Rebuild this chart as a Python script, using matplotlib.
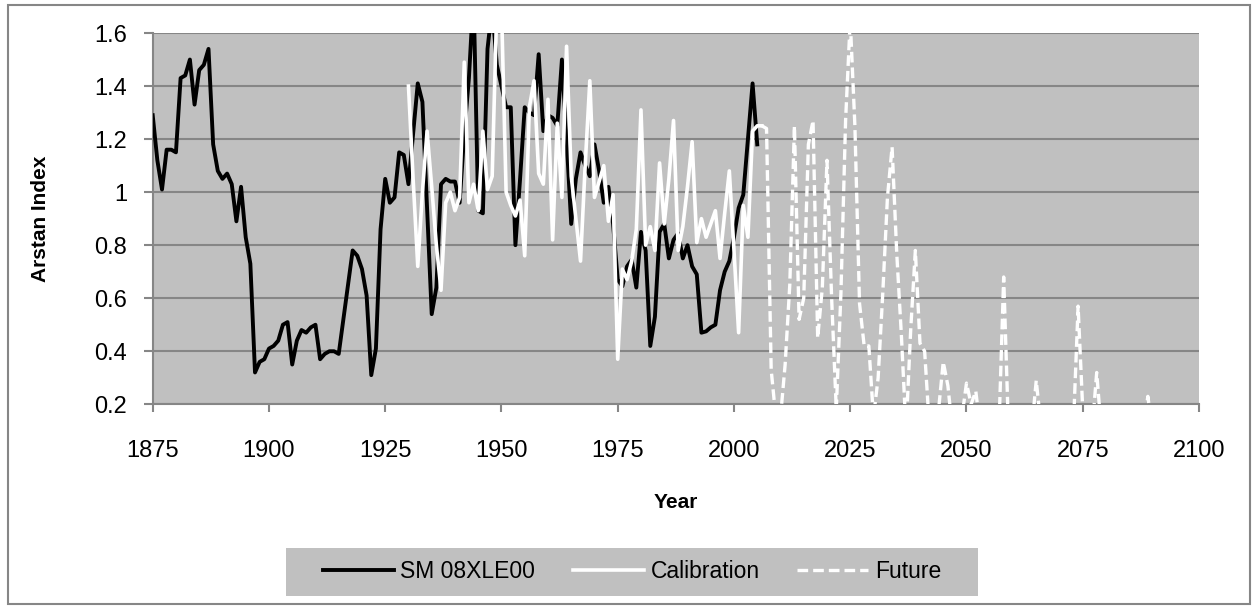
import matplotlib
matplotlib.use('Agg')
import matplotlib.pyplot as plt
from matplotlib.patches import Rectangle
import numpy as np

plt.rcParams['font.family'] = ['Liberation Sans', 'DejaVu Sans']

# SM 08XLE00 chronology, 1875-2005
sm_years = list(range(1875, 2006))
sm_values = [
    1.29, 1.12, 1.01, 1.16, 1.16, 1.15, 1.43, 1.44, 1.50, 1.33,   # 1875-1884
    1.46, 1.48, 1.54, 1.18, 1.08, 1.05, 1.07, 1.03, 0.89, 1.02,   # 1885-1894
    0.83, 0.73, 0.32, 0.36, 0.37, 0.41, 0.42, 0.44, 0.50, 0.51,   # 1895-1904
    0.35, 0.44, 0.48, 0.47, 0.49, 0.50, 0.37, 0.39, 0.40, 0.40,   # 1905-1914
    0.39, 0.52, 0.65, 0.78, 0.76, 0.71, 0.61, 0.31, 0.41, 0.86,   # 1915-1924
    1.05, 0.96, 0.98, 1.15, 1.14, 1.03, 1.22, 1.41, 1.34, 0.94,   # 1925-1934
    0.54, 0.64, 1.03, 1.05, 1.04, 1.04, 0.96, 1.22, 1.43, 1.75,   # 1935-1944
    0.93, 0.92, 1.54, 1.70, 1.48, 1.40, 1.32, 1.32, 0.80, 1.05,   # 1945-1954
    1.32, 1.30, 1.29, 1.52, 1.23, 1.29, 1.28, 1.25, 1.50, 1.20,   # 1955-1964
    0.88, 1.05, 1.15, 1.10, 1.06, 1.18, 1.08, 0.96, 1.02, 0.88,   # 1965-1974
    0.67, 0.645, 0.72, 0.745, 0.64, 0.85, 0.78, 0.42, 0.53, 0.85, # 1975-1984
    0.88, 0.75, 0.82, 0.845, 0.75, 0.80, 0.72, 0.69, 0.47, 0.475, # 1985-1994
    0.49, 0.50, 0.63, 0.70, 0.74, 0.83, 0.94, 0.99, 1.20, 1.41,   # 1995-2004
    1.18,                                                         # 2005
]

# Calibration model, 1930-2006
cal_years = list(range(1930, 2007))
cal_values = [
    1.40, 1.05, 0.72, 1.00, 1.23, 1.02, 0.80, 0.63, 0.96, 1.00,   # 1930-1939
    0.93, 0.98, 1.49, 0.96, 1.03, 0.93, 1.23, 1.01, 1.06, 1.70,   # 1940-1949
    1.70, 1.00, 0.95, 0.91, 0.97, 0.76, 1.32, 1.42, 1.07, 1.03,   # 1950-1959
    1.35, 0.82, 1.26, 0.98, 1.55, 1.06, 0.90, 0.74, 1.10, 1.42,   # 1960-1969
    0.98, 1.04, 1.10, 0.89, 0.99, 0.37, 0.71, 0.67, 0.74, 0.86,   # 1970-1979
    1.31, 0.80, 0.87, 0.78, 1.11, 0.88, 1.05, 1.27, 0.78, 0.87,   # 1980-1989
    1.02, 1.19, 0.81, 0.90, 0.83, 0.88, 0.93, 0.75, 0.92, 1.08,   # 1990-1999
    0.78, 0.47, 0.95, 0.83, 1.23, 1.25, 1.25,                     # 2000-2006
]

# Future projection, 2006-2099 (values under 0.2 fall below the axis)
fut_years = list(range(2006, 2100))
fut_values = [
    1.25, 1.24, 0.33, 0.15, 0.15, 0.35, 0.65, 1.25, 0.52, 0.60,   # 2006-2015
    1.18, 1.27, 0.45, 0.64, 1.12, 0.60, 0.18, 0.62, 1.27, 1.65,   # 2016-2025
    1.25, 0.58, 0.42, 0.42, 0.15, 0.30, 0.62, 0.98, 1.17, 0.77,   # 2026-2035
    0.46, 0.10, 0.48, 0.78, 0.43, 0.40, 0.12, 0.10, 0.18, 0.36,   # 2036-2045
    0.27, 0.10, 0.10, 0.15, 0.28, 0.20, 0.25, 0.10, 0.10, 0.10,   # 2046-2055
    0.10, 0.12, 0.68, 0.12, 0.10, 0.10, 0.10, 0.10, 0.10, 0.29,   # 2056-2065
    0.12, 0.10, 0.10, 0.10, 0.10, 0.10, 0.10, 0.12, 0.57, 0.18,   # 2066-2075
    0.10, 0.10, 0.32, 0.10, 0.10, 0.10, 0.10, 0.10, 0.10, 0.10,   # 2076-2085
    0.10, 0.10, 0.10, 0.23, 0.10, 0.10, 0.10, 0.10, 0.10, 0.10,   # 2086-2095
    0.10, 0.10, 0.10, 0.10,                                       # 2096-2099
]

x_ticks = list(range(1875, 2101, 25))
y_ticks = [0.2, 0.4, 0.6, 0.8, 1.0, 1.2, 1.4, 1.6]
y_tick_labels = ['0.2', '0.4', '0.6', '0.8', '1', '1.2', '1.4', '1.6']

W, H = 1255, 608
fig = plt.figure(figsize=(W / 100, H / 100), dpi=100)

# plot area in pixel terms
left, right, top, bottom = 152.7, 1199, 33, 404.3
ax = fig.add_axes([left / W, 1 - bottom / H, (right - left) / W, (bottom - top) / H])
ax.set_facecolor('#C0C0C0')

ax.plot(sm_years, sm_values, color='black', lw=2.8, solid_joinstyle='round',
        label='SM 08XLE00', zorder=3)
ax.plot(cal_years, cal_values, color='white', lw=2.6, solid_joinstyle='round',
        label='Calibration', zorder=4)
ax.plot(fut_years, fut_values, color='white', lw=2.4, linestyle=(0, (3.2, 1.5)),
        label='Future', zorder=5)

ax.set_xlim(1875, 2100)
ax.set_ylim(0.2, 1.6)
ax.set_xticks(x_ticks)
ax.set_yticks(y_ticks)
ax.set_yticklabels(y_tick_labels)

ax.grid(axis='y', color='#868686', lw=1.5, zorder=1)
ax.set_axisbelow(True)
for s in ['top', 'right']:
    ax.spines[s].set_visible(False)
for s in ['left', 'bottom']:
    ax.spines[s].set_color('#868686')
    ax.spines[s].set_linewidth(1.5)

ax.tick_params(axis='x', length=6, width=1.5, color='#868686', pad=20,
               labelsize=17)
ax.tick_params(axis='y', length=6.5, width=1.5, color='#868686', pad=12,
               labelsize=17)

fig.text(676 / W, 1 - 503 / H, 'Year', ha='center', va='center',
         fontsize=15, fontweight='bold')
fig.text(40 / W, 1 - 219 / H, 'Arstan Index', ha='center', va='center',
         rotation=90, fontsize=15, fontweight='bold')

# legend box, drawn underneath the axes (and its legend)
fig.patches.append(Rectangle((286 / W, 1 - 596 / H), (978 - 286) / W, 48 / H,
                             transform=fig.transFigure, facecolor='#C0C0C0',
                             edgecolor='none', zorder=-2))
leg = ax.legend(loc='center', bbox_to_anchor=(632 / W, 1 - 572 / H),
                bbox_transform=fig.transFigure, ncol=3, frameon=False,
                fontsize=16.5, handlelength=3.1, handletextpad=0.28,
                columnspacing=1.65)

# outer chart border
fig.patches.append(Rectangle((7.5 / W, 1 - 604 / H), (1250 - 7.5) / W, (604 - 4.5) / H,
                             transform=fig.transFigure, facecolor='none',
                             edgecolor='#868686', lw=1.5, zorder=-2))

fig.savefig('out.png', dpi=100)
